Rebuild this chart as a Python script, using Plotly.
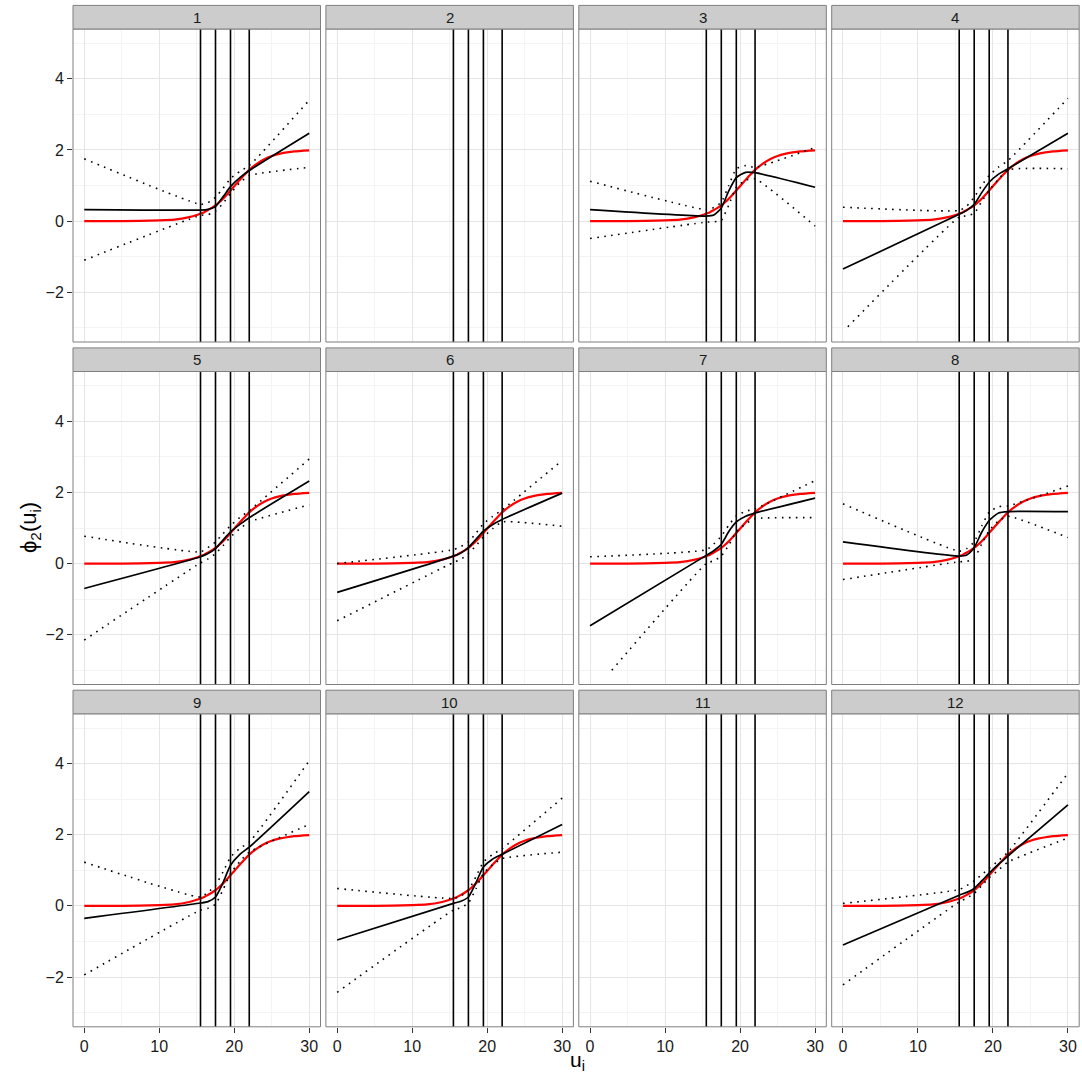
import plotly.graph_objects as go

# ---- data -----------------------------------------------------------------
panels = list(range(1, 13))
strip_labels = [str(p) for p in panels]
knots = [15.5, 17.5, 19.5, 22.0]

x_ticks = [0, 10, 20, 30]
x_minor = [5, 15, 25]
y_ticks = [-2, 0, 2, 4]
y_minor = [-3, -1, 1, 3, 5]
y_limits = [-3.4, 5.4]
x_limits = [-1.5, 31.5]

# true curve phi_2(u)
u_true = [0, 5, 10, 12, 14, 15, 15.5, 16, 16.5, 17, 17.5, 18, 18.5, 19, 19.5,
          20, 20.5, 21, 21.5, 22, 23, 24, 25, 26, 27, 28, 30]
phi_true = [0.00, 0.00, 0.02, 0.04, 0.11, 0.17, 0.21, 0.25, 0.31, 0.37, 0.44,
            0.53, 0.63, 0.74, 0.86, 0.98, 1.10, 1.22, 1.33, 1.44, 1.61, 1.74,
            1.83, 1.89, 1.93, 1.96, 1.99]

# estimated curve and pointwise bands, evaluated on u_grid
u_grid = [0, 15.5, 16.5, 17.5, 18.5, 19.5, 20.75, 22, 30]

fit_1 = [0.32, 0.31, 0.33, 0.41, 0.68, 0.97, 1.22, 1.42, 2.47]
hi_1 = [1.75, 0.47, 0.52, 0.67, 0.92, 1.19, 1.40, 1.56, 3.40]
lo_1 = [-1.10, 0.16, 0.18, 0.28, 0.50, 0.78, 1.08, 1.28, 1.51]

fit_3 = [0.32, 0.14, 0.17, 0.37, 0.85, 1.22, 1.37, 1.36, 0.95]
hi_3 = [1.12, 0.32, 0.38, 0.53, 1.00, 1.47, 1.56, 1.51, 2.07]
lo_3 = [-0.49, -0.03, -0.02, 0.02, 0.45, 0.95, 1.15, 1.19, -0.14]

fit_4 = [-1.35, 0.19, 0.30, 0.47, 0.80, 1.09, 1.32, 1.47, 2.47]
hi_4 = [0.39, 0.30, 0.42, 0.67, 1.00, 1.28, 1.52, 1.70, 3.45]
lo_4_u = [0.65, 15.5, 16.5, 17.5, 18.5, 19.5, 20.75, 22, 30]
lo_4 = [-2.97, 0.11, 0.15, 0.22, 0.55, 0.86, 1.18, 1.44, 1.47]

fit_5 = [-0.70, 0.19, 0.28, 0.42, 0.66, 0.89, 1.10, 1.29, 2.32]
hi_5 = [0.77, 0.33, 0.45, 0.61, 0.84, 1.07, 1.30, 1.49, 2.94]
lo_5 = [-2.15, 0.02, 0.13, 0.28, 0.50, 0.75, 0.98, 1.17, 1.65]

fit_6 = [-0.81, 0.21, 0.30, 0.45, 0.68, 0.91, 1.10, 1.24, 1.98]
hi_6 = [0.00, 0.39, 0.48, 0.61, 0.85, 1.12, 1.33, 1.51, 2.90]
lo_6 = [-1.61, 0.03, 0.12, 0.28, 0.50, 0.75, 0.98, 1.17, 1.05]

fit_7 = [-1.75, 0.23, 0.36, 0.54, 0.90, 1.17, 1.33, 1.42, 1.84]
hi_7 = [0.19, 0.39, 0.55, 0.77, 1.08, 1.34, 1.47, 1.54, 2.33]
lo_7_u = [2.9, 15.5, 16.5, 17.5, 18.5, 19.5, 20.75, 22, 30]
lo_7 = [-3.00, 0.00, 0.08, 0.21, 0.52, 0.89, 1.12, 1.26, 1.29]

fit_8 = [0.61, 0.21, 0.24, 0.45, 0.88, 1.21, 1.42, 1.46, 1.46]
hi_8 = [1.68, 0.35, 0.42, 0.61, 1.05, 1.45, 1.60, 1.62, 2.18]
lo_8 = [-0.45, 0.05, 0.06, 0.15, 0.55, 0.93, 1.20, 1.33, 0.73]

fit_9 = [-0.35, 0.08, 0.12, 0.25, 0.65, 1.14, 1.45, 1.65, 3.21]
hi_9 = [1.23, 0.25, 0.38, 0.58, 0.95, 1.37, 1.62, 1.79, 4.08]
lo_9 = [-1.94, -0.12, -0.07, 0.05, 0.45, 0.91, 1.25, 1.51, 2.29]

fit_10 = [-0.96, 0.07, 0.13, 0.25, 0.65, 1.09, 1.32, 1.45, 2.29]
hi_10 = [0.49, 0.21, 0.28, 0.44, 0.82, 1.23, 1.45, 1.61, 3.03]
lo_10 = [-2.43, -0.12, -0.05, 0.08, 0.48, 0.91, 1.16, 1.33, 1.51]

fit_12 = [-1.10, 0.30, 0.38, 0.49, 0.70, 0.92, 1.17, 1.40, 2.84]
hi_12 = [0.07, 0.46, 0.57, 0.70, 0.88, 1.05, 1.28, 1.51, 3.73]
lo_12 = [-2.22, 0.11, 0.22, 0.35, 0.57, 0.79, 1.01, 1.23, 1.91]

# panel -> (fit, upper, lower, lower abscissae); panels 2 and 11 have no fit
estimates = {
    1: (fit_1, hi_1, lo_1, u_grid),
    3: (fit_3, hi_3, lo_3, u_grid),
    4: (fit_4, hi_4, lo_4, lo_4_u),
    5: (fit_5, hi_5, lo_5, u_grid),
    6: (fit_6, hi_6, lo_6, u_grid),
    7: (fit_7, hi_7, lo_7, lo_7_u),
    8: (fit_8, hi_8, lo_8, u_grid),
    9: (fit_9, hi_9, lo_9, u_grid),
    10: (fit_10, hi_10, lo_10, u_grid),
    12: (fit_12, hi_12, lo_12, u_grid),
}

# ---- layout geometry (pixels) --------------------------------------------
W, H = 1082, 1075
col_left = 73.0
col_w = 247.5
col_gap = 5.4
row_panel_top = [29.0, 371.5, 713.8]
panel_h = 313.0
strip_h = 23.6

FONT = "Liberation Sans, Arial, Helvetica, sans-serif"
BORDER = "#7F7F7F"


def px_x(v):
    return v / W


def px_y(v):
    return 1 - v / H


fig = go.Figure()
shapes = []
annotations = []
layout_axes = {}

for idx, p in enumerate(panels):
    r, c = divmod(idx, 4)
    n = idx + 1
    xname = "x" if n == 1 else f"x{n}"
    yname = "y" if n == 1 else f"y{n}"
    xkey = "xaxis" if n == 1 else f"xaxis{n}"
    ykey = "yaxis" if n == 1 else f"yaxis{n}"

    x0 = col_left + c * (col_w + col_gap)
    x1 = x0 + col_w
    top = row_panel_top[r]
    bot = top + panel_h

    bottom_row = r == 2
    left_col = c == 0

    layout_axes[xkey] = dict(
        domain=[px_x(x0), px_x(x1)], anchor=yname, range=x_limits,
        tickvals=x_ticks, showticklabels=bottom_row,
        ticks="outside" if bottom_row else "", ticklen=5, tickwidth=1,
        tickcolor="#333333",
        tickfont=dict(family=FONT, size=16, color="#1a1a1a"),
        showgrid=True, gridcolor="#E5E5E5", gridwidth=1,
        minor=dict(tickvals=x_minor, showgrid=True, gridcolor="#F4F4F4",
                   gridwidth=1, ticks=""),
        zeroline=False, showline=False, fixedrange=True,
    )
    layout_axes[ykey] = dict(
        domain=[px_y(bot), px_y(top)], anchor=xname, range=y_limits,
        tickvals=y_ticks, ticktext=["\u22122", "0", "2", "4"],
        showticklabels=left_col,
        ticks="outside" if left_col else "", ticklen=5, tickwidth=1,
        tickcolor="#333333",
        tickfont=dict(family=FONT, size=16, color="#1a1a1a"),
        showgrid=True, gridcolor="#E5E5E5", gridwidth=1,
        minor=dict(tickvals=y_minor, showgrid=True, gridcolor="#F4F4F4",
                   gridwidth=1, ticks=""),
        zeroline=False, showline=False, fixedrange=True,
    )

    # true function (red) and estimate with pointwise bands (black)
    if p in estimates:
        fit, hi, lo, lo_u = estimates[p]
        fig.add_trace(go.Scatter(
            x=u_true, y=phi_true, mode="lines", xaxis=xname, yaxis=yname,
            line=dict(color="#FF0000", width=2.2, shape="spline", smoothing=0.6),
            showlegend=False, hoverinfo="skip"))
        fig.add_trace(go.Scatter(
            x=u_grid, y=hi, mode="lines", xaxis=xname, yaxis=yname,
            line=dict(color="black", width=1.6, dash="1.6px,5.4px",
                      shape="spline", smoothing=0.5),
            showlegend=False, hoverinfo="skip"))
        fig.add_trace(go.Scatter(
            x=lo_u, y=lo, mode="lines", xaxis=xname, yaxis=yname,
            line=dict(color="black", width=1.6, dash="1.6px,5.4px",
                      shape="spline", smoothing=0.5),
            showlegend=False, hoverinfo="skip"))
        fig.add_trace(go.Scatter(
            x=u_grid, y=fit, mode="lines", xaxis=xname, yaxis=yname,
            line=dict(color="black", width=1.7, shape="spline", smoothing=0.6),
            showlegend=False, hoverinfo="skip"))

    # knot lines
    for k in knots:
        shapes.append(dict(type="line", xref=xname, yref=f"{yname} domain",
                           x0=k, x1=k, y0=0, y1=1,
                           line=dict(color="black", width=1.6), layer="above"))

    # panel border
    shapes.append(dict(type="rect", xref="paper", yref="paper",
                       x0=px_x(x0), x1=px_x(x1), y0=px_y(bot), y1=px_y(top),
                       line=dict(color=BORDER, width=1), fillcolor="rgba(0,0,0,0)",
                       layer="above"))
    # strip
    shapes.append(dict(type="rect", xref="paper", yref="paper",
                       x0=px_x(x0), x1=px_x(x1), y0=px_y(top),
                       y1=px_y(top - strip_h),
                       line=dict(color=BORDER, width=1), fillcolor="#CCCCCC",
                       layer="above"))
    annotations.append(dict(text=strip_labels[idx], xref="paper", yref="paper",
                            x=px_x((x0 + x1) / 2), y=px_y(top - strip_h / 2),
                            xanchor="center", yanchor="middle", showarrow=False,
                            font=dict(family=FONT, size=15, color="#1a1a1a")))

# axis titles
annotations.append(dict(text="u<sub>i</sub>", xref="paper", yref="paper",
                        x=px_x(577), y=px_y(1061), xanchor="center",
                        yanchor="middle", showarrow=False,
                        font=dict(family=FONT, size=21, color="black")))
annotations.append(dict(text="\u03d5<sub>2</sub>(u<sub>i</sub>)", xref="paper",
                        yref="paper", x=px_x(30), y=px_y(528),
                        xanchor="center", yanchor="middle", showarrow=False,
                        textangle=-90,
                        font=dict(family=FONT, size=22, color="black")))

fig.update_layout(
    width=W, height=H, autosize=False,
    margin=dict(l=0, r=0, t=0, b=0, pad=0),
    paper_bgcolor="white", plot_bgcolor="white",
    showlegend=False, shapes=shapes, annotations=annotations,
    **layout_axes,
)

fig.write_html("out.html")
